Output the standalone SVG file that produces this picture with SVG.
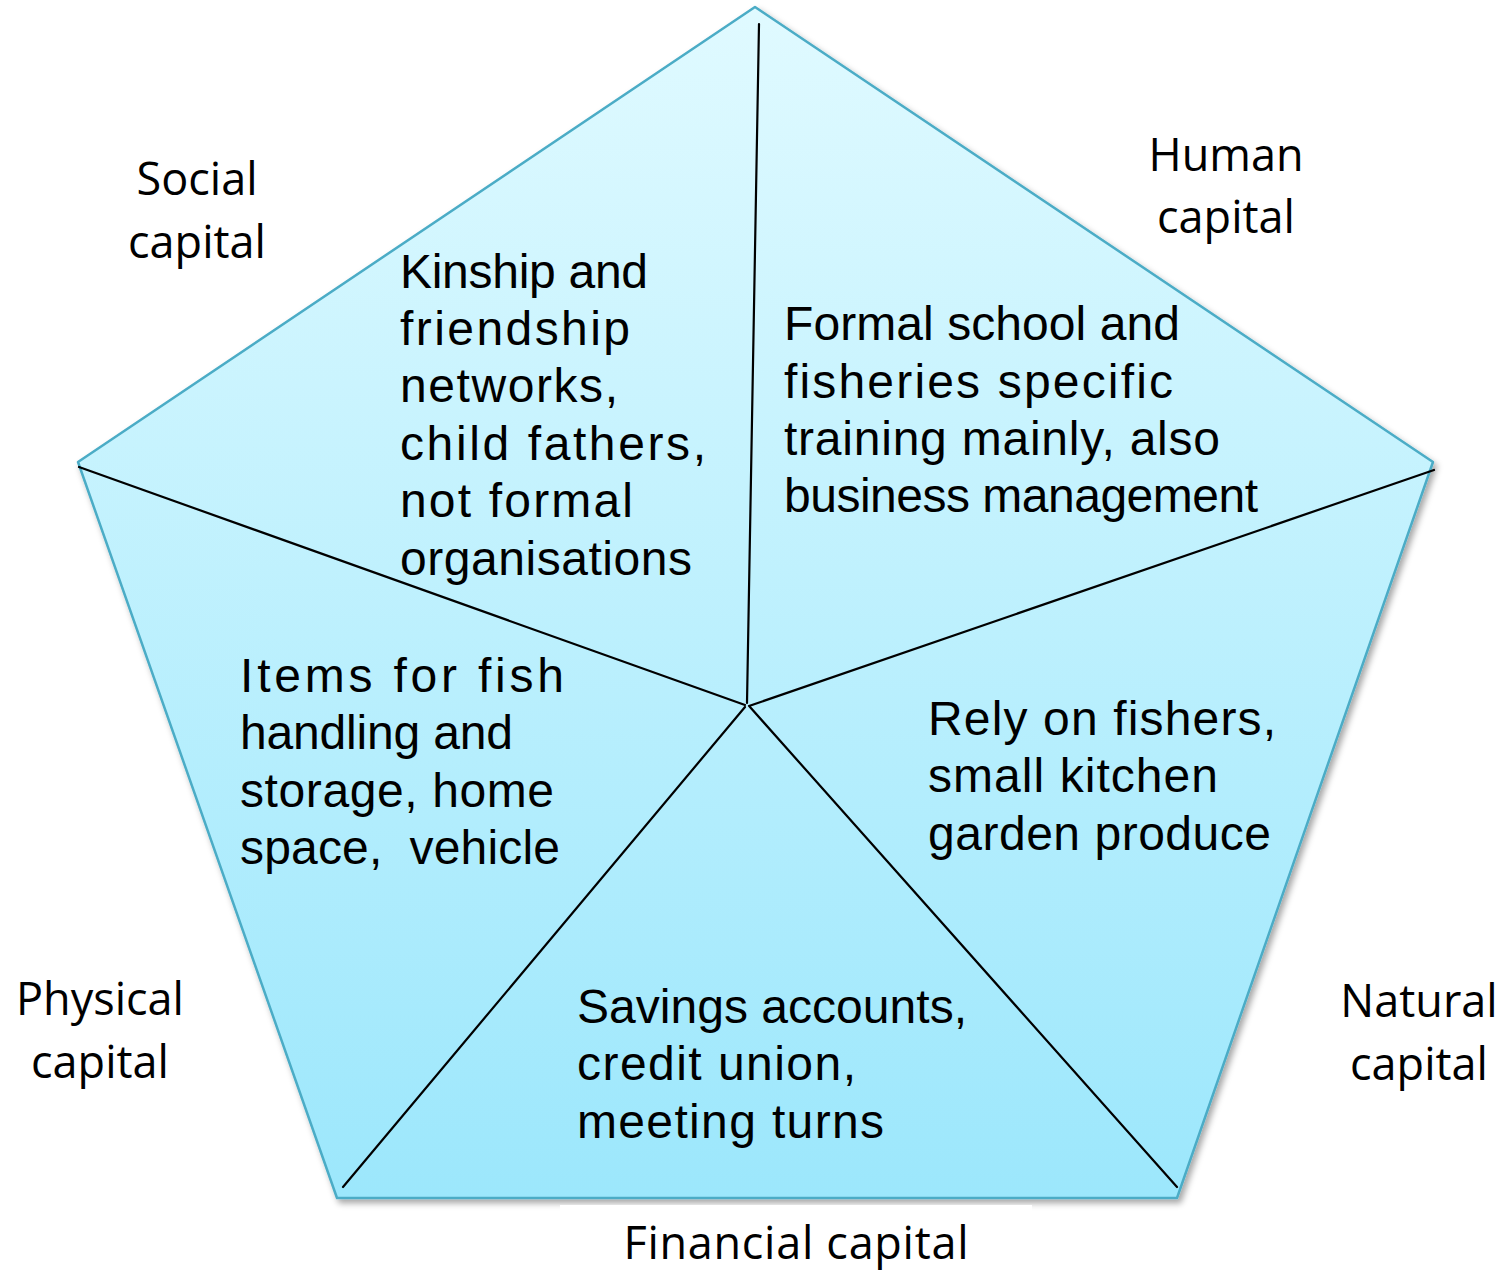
<svg xmlns="http://www.w3.org/2000/svg" width="1509" height="1272" viewBox="0 0 1509 1272">
<style>
.body{font-family:"Liberation Sans",Arial,sans-serif;font-size:48px;fill:#000}
.lab{font-family:"Open Sans","Liberation Sans",sans-serif;font-size:45px;fill:#000}
.div{stroke:#000;stroke-width:2.2;fill:none;stroke-linecap:round}
</style>
<defs>
<linearGradient id="fillg" gradientUnits="userSpaceOnUse" x1="0" y1="7" x2="0" y2="1198">
<stop offset="0" stop-color="#e0faff"/>
<stop offset="1" stop-color="#9ce7fc"/>
</linearGradient>
<filter id="sh" x="-5%" y="-5%" width="110%" height="110%">
<feDropShadow dx="3" dy="4" stdDeviation="3" flood-color="#000" flood-opacity="0.35"/>
</filter>
</defs>
<rect width="1509" height="1272" fill="#fff"/>
<g id="pentagon">
<polygon points="755,7 1433,462 1177,1198 337,1198 78,462" fill="url(#fillg)" stroke="#4bacc6" stroke-width="2.5" stroke-linejoin="round" filter="url(#sh)"/>
</g>
<g id="connectors">
<line class="div" x1="759" y1="24" x2="747" y2="703"/>
<line class="div" x1="1434" y1="470" x2="749" y2="706"/>
<line class="div" x1="1177" y1="1187" x2="750" y2="707"/>
<line class="div" x1="343" y1="1187" x2="745" y2="707"/>
<line class="div" x1="79" y1="467" x2="745" y2="705"/>
</g>
<rect x="560" y="1205" width="472" height="67" fill="#fff"/>
<g id="social">
<text class="body"><tspan x="400" y="288" textLength="248">Kinship and</tspan><tspan x="400" y="345" textLength="230">friendship</tspan><tspan x="400" y="402" textLength="218">networks,</tspan><tspan x="400" y="460" textLength="306">child fathers,</tspan><tspan x="400" y="517" textLength="233">not formal</tspan><tspan x="400" y="575" textLength="292">organisations</tspan></text>
<text class="lab" text-anchor="middle"><tspan x="197" y="195">Social</tspan><tspan x="197" y="258">capital</tspan></text>
</g>
<g id="human">
<text class="body"><tspan x="784" y="340" textLength="396">Formal school and</tspan><tspan x="784" y="398" textLength="389">fisheries specific</tspan><tspan x="784" y="455" textLength="436">training mainly, also</tspan><tspan x="784" y="512" textLength="474">business management</tspan></text>
<text class="lab" text-anchor="middle"><tspan x="1226" y="171">Human</tspan><tspan x="1226" y="233">capital</tspan></text>
</g>
<g id="physical">
<text class="body"><tspan x="240" y="692" textLength="324">Items for fish</tspan><tspan x="240" y="749" textLength="273">handling and</tspan><tspan x="240" y="807" textLength="314">storage, home</tspan><tspan x="240" y="864" textLength="320" xml:space="preserve">space,  vehicle</tspan></text>
<text class="lab" text-anchor="middle"><tspan x="100" y="1015">Physical</tspan><tspan x="100" y="1078">capital</tspan></text>
</g>
<g id="natural">
<text class="body"><tspan x="928" y="735" textLength="348">Rely on fishers,</tspan><tspan x="928" y="792" textLength="290">small kitchen</tspan><tspan x="928" y="850" textLength="343">garden produce</tspan></text>
<text class="lab" text-anchor="middle"><tspan x="1419" y="1017">Natural</tspan><tspan x="1419" y="1080">capital</tspan></text>
</g>
<g id="financial">
<text class="lab" x="796" y="1259" text-anchor="middle" textLength="345">Financial capital</text>
<text class="body"><tspan x="577" y="1023" textLength="390">Savings accounts,</tspan><tspan x="577" y="1080" textLength="279">credit union,</tspan><tspan x="577" y="1138" textLength="307">meeting turns</tspan></text>
</g>
</svg>
